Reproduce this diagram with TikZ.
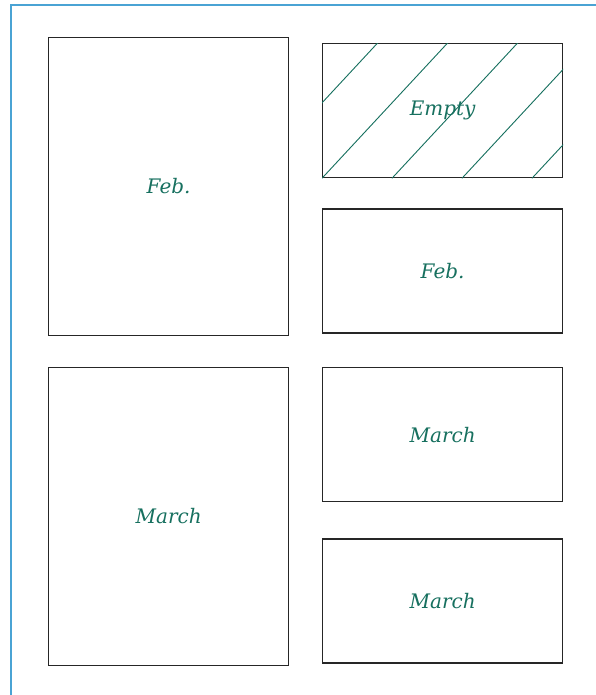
\documentclass[tikz,border=0pt]{standalone}
\usepackage{fontspec}
\setmainfont{DejaVu Serif}
\usepackage{tikz}
\usetikzlibrary{
  calc,
  positioning
}
\usepackage{xcolor}
\definecolor{monthteal}{HTML}{17705F}
\definecolor{pageblue}{HTML}{4AA3D4}

\begin{document}
\begin{tikzpicture}[
  x=0.6pt, y=-0.6pt,
  slot/.style={rectangle, draw=black!85, line width=0.75pt, minimum width=144pt, inner sep=0pt, anchor=north west, font=\fontsize{12}{14}\selectfont\itshape, text=monthteal},
  tall/.style={slot, minimum height=178.5pt},
  wide/.style={slot, minimum height=80.4pt},
  flat/.style={slot, minimum height=74.4pt},
  hatch/.style={monthteal, line width=0.55pt},
  frame/.style={pageblue, line width=1.5pt},
]
\useasboundingbox (0,0) rectangle (596,695);

% Page edge
\draw[frame] (11,695) |- (596,5);

% Left column
\node[tall] (febL) at (48,37) {Feb.};
\node[tall] (marL) at (48,367) {March};

% Right column
\node[wide] (empty) at (322,43) {};
\node[flat, below=18pt of empty, anchor=north] (febR) {Feb.};
\node[wide] (marR) at (322,367) {March};
\node[flat, below=21.6pt of marR, anchor=north] (marRR) {March};

% Hatching of the empty slot
\begin{scope}
  \clip (empty.south west) rectangle (empty.north east);
  \foreach \k in {-2,...,3}
    \draw[hatch] ([xshift=42*\k pt]empty.south west) -- ++(130,-140);
\end{scope}
\node[font=\fontsize{12}{14}\selectfont\itshape, text=monthteal] at (empty.center) {Empty};
\end{tikzpicture}
\end{document}
